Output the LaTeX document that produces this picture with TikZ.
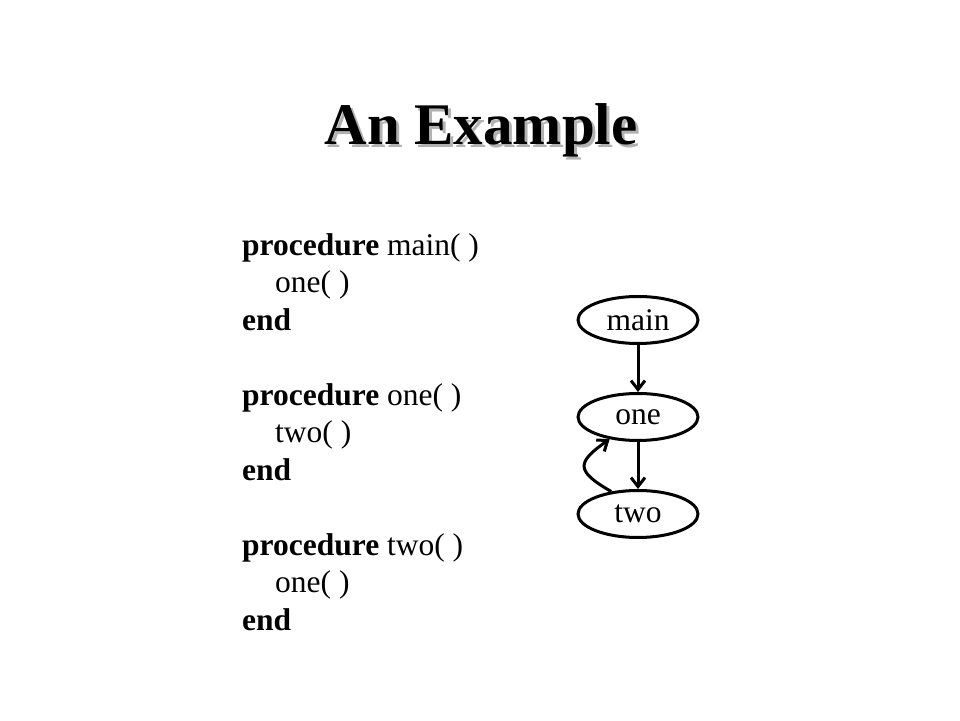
\documentclass[tikz,border=0pt]{standalone}
\usepackage{fontspec}
\setmainfont{Liberation Serif}
\usetikzlibrary{positioning,shapes.geometric,arrows.meta}

\begin{document}
\begin{tikzpicture}[x=1pt,y=1pt]
    \tikzset{proc node/.style = {ellipse, draw, line width=3pt, minimum width=120pt, minimum height=47pt, inner sep=0pt, font=\fontsize{31.5}{37.5}\selectfont}}
    \tikzset{title font/.style = {font=\fontsize{59}{70}\selectfont\bfseries, anchor=base}}
    \tikzset{call/.style = {-{Straight Barb[length=9pt,width=14pt]}, line width=3pt}}
    \useasboundingbox (0,0) rectangle (960,720);
    % title with its shadow
    \node[title font, text=black!30] (shadow) at (484,572) {An Example};
    \node[title font] (title) at (481,575) {An Example};
    % the code
    \node[anchor=north west, align=left, inner sep=0pt, font=\fontsize{31.5}{37.5}\selectfont] (code) at (242,487)
      {\textbf{procedure} main( )\\
       \hspace*{33pt}one( )\\
       \textbf{end}\\[37.5pt]
       \textbf{procedure} one( )\\
       \hspace*{33pt}two( )\\
       \textbf{end}\\[37.5pt]
       \textbf{procedure} two( )\\
       \hspace*{33pt}one( )\\
       \textbf{end}};
    % the call graph
    \node[proc node] (main) at (638,400) {main};
    \node[proc node] (one) [below = 47pt of main] {one};
    \node[proc node] (two) [below = 47pt of one] {two};
    \draw[call] (main) -- (one);
    \draw[call] (one) -- (two);
    \draw[call] (two.140) to[out=150, in=215, looseness=2] (one.218);
\end{tikzpicture}
\end{document}
